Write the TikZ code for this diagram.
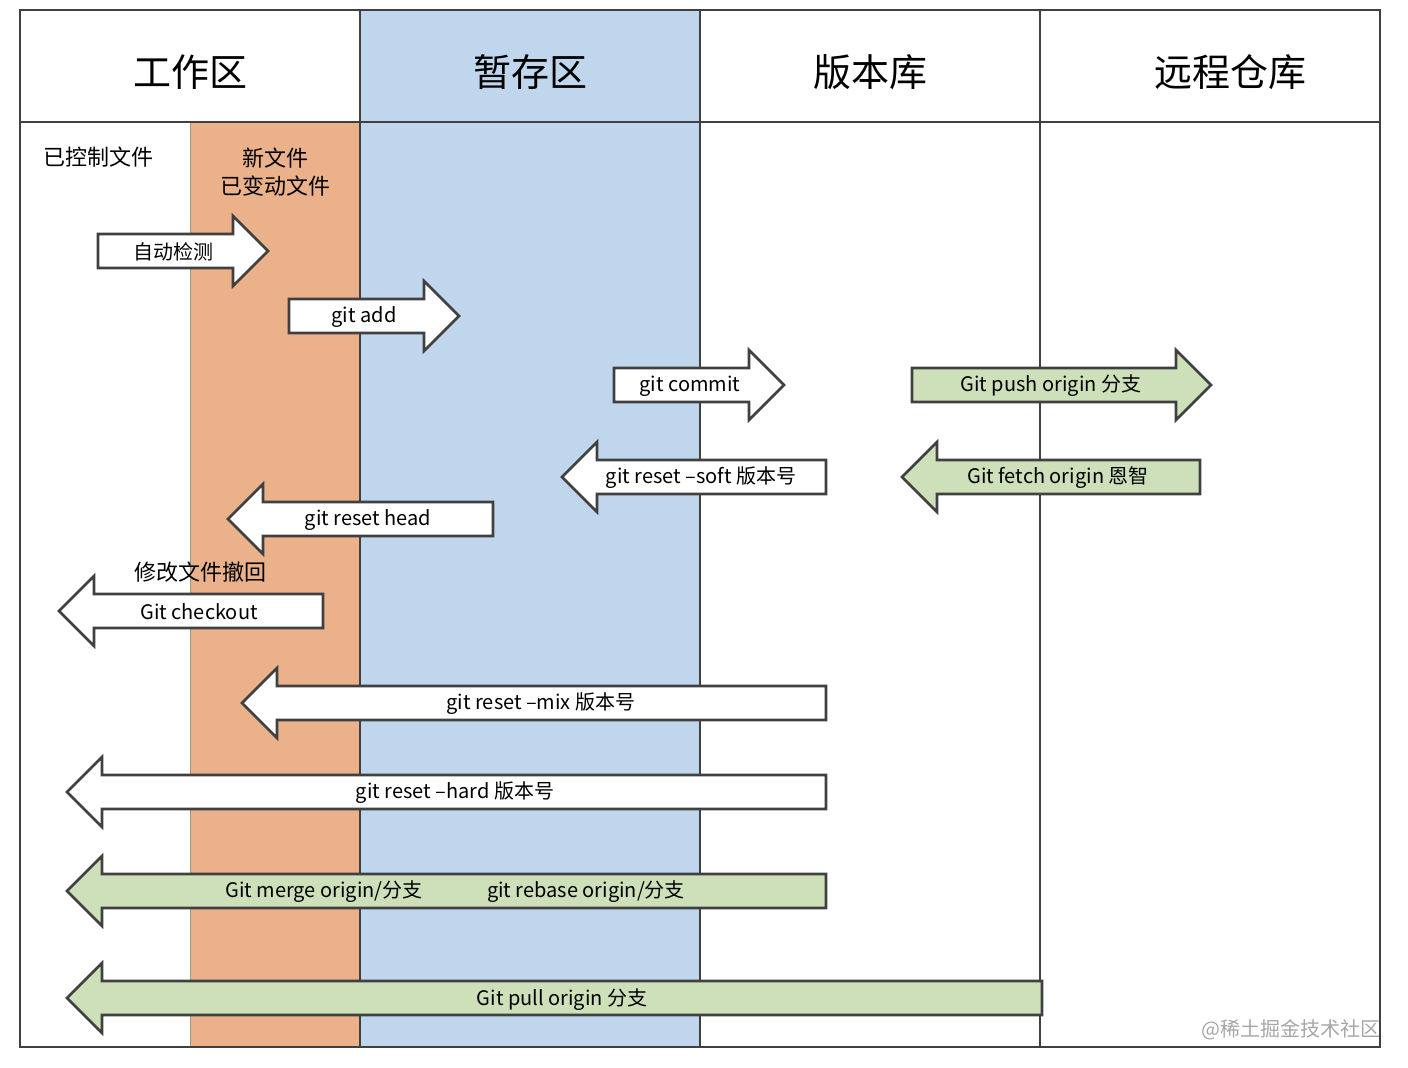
\documentclass[tikz,border=0pt]{standalone}
\usepackage{fontspec}
\setmainfont{Liberation Sans}
\newfontfamily\cjk{Noto Sans CJK SC}
\usetikzlibrary{positioning, calc}
\definecolor{workOrange}{HTML}{EAB18A}
\definecolor{stageBlue}{HTML}{C0D6EC}
\definecolor{remoteGreen}{HTML}{CDE0B9}
\definecolor{lineGray}{HTML}{404040}
% right arrow: #1 body start, #2 tip, #3 y, #4 fill
\newcommand{\ArrowRight}[4]{
    \draw[arrowBody, fill=#4] (#1,#3-17) -- (#2-35,#3-17) -- (#2-35,#3-35) -- (#2,#3)
        -- (#2-35,#3+35) -- (#2-35,#3+17) -- (#1,#3+17) -- cycle;
}
% left arrow: #1 tip, #2 body end, #3 y, #4 fill
\newcommand{\ArrowLeft}[4]{
    \draw[arrowBody, fill=#4] (#2,#3-17) -- (#1+35,#3-17) -- (#1+35,#3-35) -- (#1,#3)
        -- (#1+35,#3+35) -- (#1+35,#3+17) -- (#2,#3+17) -- cycle;
}
\tikzset{
    gitPic/.style={x=0.5pt, y=-0.5pt},
    arrowBody/.style={draw=lineGray, line width=1.3pt, fill opacity=1},
    zoneLine/.style={draw=lineGray, line width=0.6pt},
    headLabel/.style={font=\cjk\fontsize{19}{22}\selectfont},
    cmdLabel/.style={font=\cjk\fontsize{10}{12}\selectfont, inner sep=0pt},
    noteLabel/.style={font=\cjk\fontsize{11}{14}\selectfont, align=center, inner sep=0pt}
}
\begin{document}
\begin{tikzpicture}[gitPic]
    \useasboundingbox (0,0) rectangle (1408,1068);
    % zones
    \fill[stageBlue] (360,10) rectangle (700,1047);
    \fill[workOrange] (190,122) rectangle (360,1047);
    \draw[remoteGreen!70!black, line width=0.4pt] (190,122) -- (190,1047);
    \draw[zoneLine] (20,10) rectangle (1380,1047);
    \draw[zoneLine] (20,122) -- (1380,122);
    \foreach \x in {360, 700, 1040} \draw[zoneLine] (\x,10) -- (\x,1047);

    % headers
    \node[headLabel] (work) at (190,72) {工作区};
    \node[headLabel] (stage) at (530,72) {暂存区};
    \node[headLabel] (repo) at (870,72) {版本库};
    \node[headLabel] (remote) at (1230,72) {远程仓库};
    \node[noteLabel, anchor=west] (tracked) at (43,157) {已控制文件};
    \node[noteLabel] (newFiles) at (275,172) {新文件\\已变动文件};

    % arrows
    \ArrowRight{98}{268}{251}{white}
    \node[cmdLabel] (autoDetect) at (173,252) {自动检测};
    \ArrowRight{289}{459}{316}{white}
    \node[cmdLabel] (gitAdd) at (364,317) {git add};
    \ArrowRight{614}{784}{385}{white}
    \node[cmdLabel] (gitCommit) at (690,386) {git commit};
    \ArrowRight{912}{1211}{385}{remoteGreen}
    \node[cmdLabel] (gitPush) at (1051,386) {Git push origin 分支};
    \ArrowLeft{562}{826}{477}{white}
    \node[cmdLabel] (resetSoft) at (701,478) {git reset –soft 版本号};
    \ArrowLeft{902}{1200}{477}{remoteGreen}
    \node[cmdLabel] (gitFetch) at (1058,478) {Git fetch origin 恩智};
    \ArrowLeft{228}{493}{519}{white}
    \node[cmdLabel] (resetHead) at (368,520) {git reset head};
    \node[noteLabel] (undoNote) at (200,572) {修改文件撤回};
    \ArrowLeft{59}{323}{611}{white}
    \node[cmdLabel] (gitCheckout) at (199,612) {Git checkout};
    \ArrowLeft{242}{826}{703}{white}
    \node[cmdLabel] (resetMix) at (541,704) {git reset –mix 版本号};
    \ArrowLeft{67}{826}{792}{white}
    \node[cmdLabel] (resetHard) at (455,793) {git reset –hard 版本号};
    \ArrowLeft{67}{826}{891}{remoteGreen}
    \node[cmdLabel] (gitMerge) at (324,892) {Git merge origin/分支};
    \node[cmdLabel] (gitRebase) at (586,892) {git rebase origin/分支};
    \ArrowLeft{67}{1042}{998}{remoteGreen}
    \node[cmdLabel] (gitPull) at (562,1000) {Git pull origin 分支};

    \node[cmdLabel, text=gray!70, anchor=east] (mark) at (1381,1030) {@稀土掘金技术社区};
\end{tikzpicture}
\end{document}
